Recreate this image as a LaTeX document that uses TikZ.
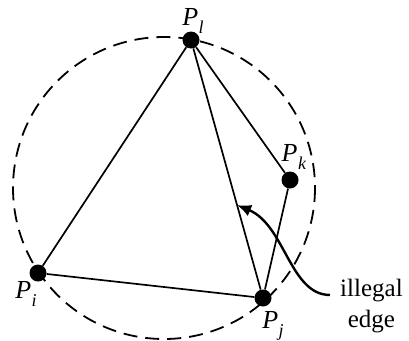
\documentclass[tikz,border=0pt]{standalone}
\usepackage{fontspec}
\setmainfont{Liberation Serif}
\usetikzlibrary{arrows.meta,calc}
\newcommand{\plab}[1]{\textit{P}\kern0.5pt\raisebox{-0.28em}{\fontsize{18}{20}\selectfont\textit{#1}}}
\begin{document}
\begin{tikzpicture}[x=1pt,y=-1pt,
  pt/.style={circle,fill=black,inner sep=0pt,minimum size=17pt},
  edge/.style={line width=1.7pt},
  lbl/.style={inner sep=0pt,font=\fontsize{26}{30}\selectfont},
  txt/.style={inner sep=0pt,align=center,font=\fontsize{25}{31}\selectfont}]
\useasboundingbox (0,0) rectangle (409,340);
\draw[line width=1.8pt,dash pattern=on 14pt off 8pt] (164,188) circle (151);
\node[pt] (Pl) at (191,40) {};
\node[pt] (Pk) at (290,180) {};
\node[pt] (Pi) at (38,273) {};
\node[pt] (Pj) at (263,298) {};
\draw[edge] (Pl) -- (Pi);
\draw[edge] (Pl) -- (Pj);
\draw[edge] (Pl) -- (Pk);
\draw[edge] (Pk) -- (Pj);
\draw[edge] (Pi) -- (Pj);
\node[lbl] (Ll) at (193,21) {\plab{l}};
\node[lbl] (Lk) at (294,157) {\plab{k}};
\node[lbl] (Li) at (26,294) {\plab{i}};
\node[lbl] (Lj) at (273,326) {\plab{j}};
\coordinate (tip) at ($(Pl)!0.64!(Pj)$);
\coordinate (cs) at (330,295);
\draw[line width=2.4pt,-{Latex[length=14pt,width=12pt]}] (cs) .. controls (290,295) and (285,225) .. (tip);
\node[txt,anchor=west] (T) at (340,306) {illegal\\edge};
\end{tikzpicture}
\end{document}
